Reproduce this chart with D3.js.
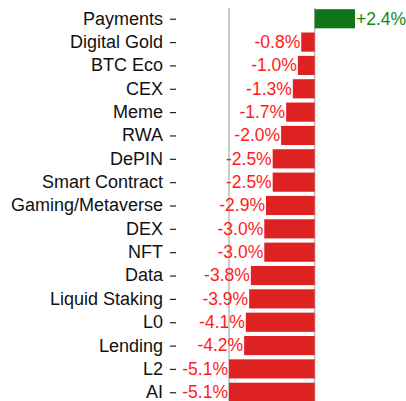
<!DOCTYPE html>
<html>
<head>
<meta charset="utf-8">
<script src="https://cdn.jsdelivr.net/npm/d3@7"></script>
<style>
  body { margin: 0; background: #fff; }
  text { font-family: "Liberation Sans", Arial, sans-serif; }
</style>
</head>
<body>
<svg id="chart" width="406" height="401"></svg>
<script>
const categories = ["Payments", "Digital Gold", "BTC Eco", "CEX", "Meme", "RWA", "DePIN",
  "Smart Contract", "Gaming/Metaverse", "DEX", "NFT", "Data", "Liquid Staking", "L0",
  "Lending", "L2", "AI"];
const changes = [2.4, -0.8, -1.0, -1.3, -1.7, -2.0, -2.5, -2.5, -2.9, -3.0, -3.0, -3.8, -3.9,
  -4.1, -4.2, -5.1, -5.1];

const rows = categories.map((c, i) => ({ name: c, value: changes[i] }));

const svg = d3.select("#chart");

const x = d3.scaleLinear().domain([-5.1, 2.4]).range([229, 355]);
const y = d3.scaleBand().domain(categories).range([8, 403]).paddingInner(0.18).paddingOuter(0.05);

// gray spine and zero line
[x.domain()[0], 0].forEach(v => {
  svg.append("line")
    .attr("x1", x(v)).attr("x2", x(v))
    .attr("y1", 8).attr("y2", 401)
    .attr("stroke", "#bbbbbb")
    .attr("stroke-width", 1.5)
})

svg.selectAll("rect.bar")
  .data(rows)
  .enter()
  .append("rect")
  .attr("class", "bar")
  .attr("x", d => x(Math.min(0, d.value)))
  .attr("width", d => Math.abs(x(d.value) - x(0)))
  .attr("y", d => y(d.name))
  .attr("height", y.bandwidth())
  .attr("fill", d => d.value >= 0 ? "#11761a" : "#de2121")

// category labels with dash ticks
const yAxis = svg.append("g")
yAxis.selectAll("text")
  .data(categories)
  .enter()
  .append("text")
  .attr("x", 163)
  .attr("y", d => y(d) + y.bandwidth() / 2)
  .attr("dy", "0.33em")
  .attr("text-anchor", "end")
  .attr("font-size", 18)
  .attr("fill", "#111")
  .text(d => d)

yAxis.selectAll("line")
  .data(categories)
  .enter()
  .append("line")
  .attr("x1", 170).attr("x2", 176)
  .attr("y1", d => y(d) + y.bandwidth() / 2 + 0.5)
  .attr("y2", d => y(d) + y.bandwidth() / 2 + 0.5)
  .attr("stroke", "#222")
  .attr("stroke-width", 1.2)

// value labels
svg.selectAll("text.val")
  .data(rows)
  .enter()
  .append("text")
  .attr("class", "val")
  .attr("x", d => d.value >= 0 ? x(d.value) + 1 : x(d.value) - 1)
  .attr("y", d => y(d.name) + y.bandwidth() / 2)
  .attr("dy", "0.33em")
  .attr("text-anchor", d => d.value >= 0 ? "start" : "end")
  .attr("font-size", 17.5)
  .attr("fill", d => d.value >= 0 ? "#118811" : "#ff1a1a")
  .text(d => (d.value >= 0 ? "+" : "") + d.value.toFixed(1) + "%")
</script>
</body>
</html>
